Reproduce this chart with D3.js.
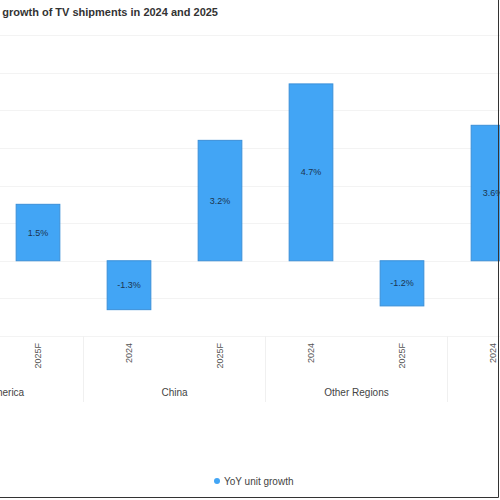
<!DOCTYPE html>
<html>
<head>
<meta charset="utf-8">
<script src="https://cdn.jsdelivr.net/npm/d3@7"></script>
<style>
  body { margin: 0; background: #fff; }
  svg { display: block; font-family: "Liberation Sans", Arial, sans-serif; }
</style>
</head>
<body>
<svg id="chart"></svg>
<script>
// chart data
const groups = ["North America", "China", "Other Regions", "Worldwide"];
const years = ["2024", "2025F"];
const barGroups = ["North America", "China", "China", "Other Regions", "Other Regions", "Worldwide"];
const barYears = ["2025F", "2024", "2025F", "2024", "2025F", "2024"];
const growth = [1.5, -1.3, 3.2, 4.7, -1.2, 3.6];
const yTicks = [-2, -1, 0, 1, 2, 3, 4, 5, 6];

const width = 500, height = 500;
const svg = d3.select('#chart')
    .attr('width', width)
    .attr('height', height);

//the chart is wider than the view, left and right parts fall outside
const keys = [];
groups.forEach(g => years.forEach(yr => keys.push(g + '|' + yr)));

const x = d3.scaleBand()
    .domain(keys)
    .range([-98.5, 629.5])
    .paddingInner(0.52)
    .paddingOuter(0.26);

const y = d3.scaleLinear()
    .domain([-2, 6])
    .range([336, 35]);

//grid lines
svg.append('g')
    .selectAll('line')
    .data(yTicks)
    .enter()
    .append('line')
        .attr('x1', 0)
        .attr('x2', width)
        .attr('y1', d => Math.round(y(d)) + 0.5)
        .attr('y2', d => Math.round(y(d)) + 0.5)
        .style('stroke', '#f3f3f3');

//bars
const data = growth.map((v, i) => ({ key: barGroups[i] + '|' + barYears[i], value: v }));

svg.append('g')
    .selectAll('rect')
    .data(data)
    .enter()
    .append('rect')
        .attr('x', d => x(d.key))
        .attr('width', x.bandwidth())
        .attr('y', d => y(Math.max(0, d.value)))
        .attr('height', d => Math.abs(y(d.value) - y(0)))
        .style('fill', '#42a5f5')
        .style('stroke', '#3a8fd8')
        .style('stroke-width', 1);

//value labels inside the bars
svg.append('g')
    .selectAll('text')
    .data(data)
    .enter()
    .append('text')
        .attr('x', d => x(d.key) + x.bandwidth() / 2)
        .attr('y', d => (y(d.value) + y(0)) / 2)
        .attr('dy', '0.35em')
        .attr('text-anchor', 'middle')
        .style('font-size', '9px')
        .style('fill', '#1c3550')
        .text(d => d.value.toFixed(1) + '%');

//year tick labels, rotated
svg.append('g')
    .selectAll('text')
    .data(keys)
    .enter()
    .append('text')
        .attr('transform', d => 'translate(' + (x(d) + x.bandwidth() / 2) + ',343) rotate(-90)')
        .attr('text-anchor', 'end')
        .attr('dy', '0.35em')
        .style('font-size', '9px')
        .style('fill', '#555')
        .text(d => d.split('|')[1]);

//separators between the groups
svg.append('g')
    .selectAll('line')
    .data(groups.slice(1))
    .enter()
    .append('line')
        .attr('x1', g => Math.round(x(g + '|' + years[0]) - x.step() * x.paddingInner() / 2) + 0.5)
        .attr('x2', g => Math.round(x(g + '|' + years[0]) - x.step() * x.paddingInner() / 2) + 0.5)
        .attr('y1', 336)
        .attr('y2', 402)
        .style('stroke', '#f0f0f0');

//group labels
svg.append('g')
    .selectAll('text')
    .data(groups)
    .enter()
    .append('text')
        .attr('x', g => (x(g + '|' + years[0]) + x(g + '|' + years[1]) + x.bandwidth()) / 2)
        .attr('y', 396)
        .attr('text-anchor', 'middle')
        .style('font-size', '10px')
        .style('fill', '#444')
        .text(g => g);

//title, its start is cut off at the left edge
svg.append('text')
    .attr('x', 218)
    .attr('y', 16)
    .attr('text-anchor', 'end')
    .style('font-size', '11px')
    .style('font-weight', 'bold')
    .style('fill', '#333')
    .text('Year-over-year growth of TV shipments in 2024 and 2025');

//legend
const legend = svg.append('g')
    .attr('transform', 'translate(217,481)');
legend.append('circle')
    .attr('r', 3)
    .style('fill', '#42a5f5');
legend.append('text')
    .attr('x', 7)
    .attr('dy', '0.35em')
    .style('font-size', '10px')
    .style('fill', '#444')
    .text('YoY unit growth');

//frame on the right and bottom
svg.append('path')
    .attr('d', 'M498.5,0V497.5H0')
    .style('fill', 'none')
    .style('stroke', '#333');
</script>
</body>
</html>
